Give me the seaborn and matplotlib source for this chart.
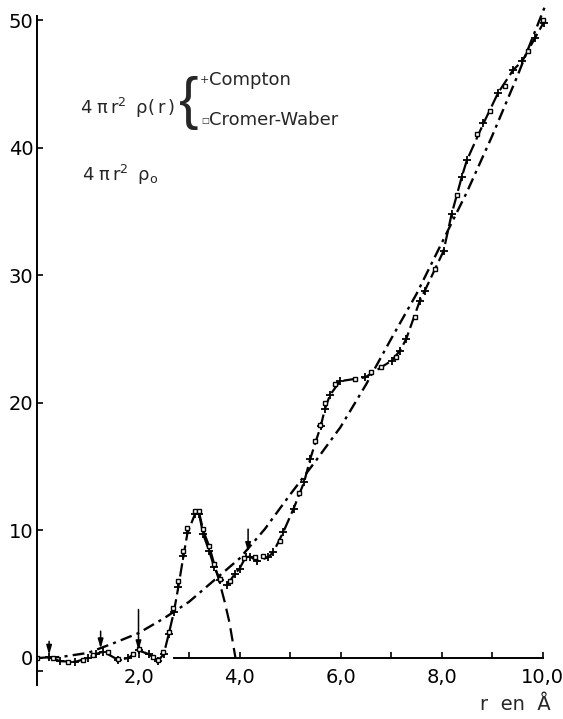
import matplotlib
matplotlib.use("Agg")
import matplotlib.pyplot as plt
import seaborn as sns
import pandas as pd

# ---------------- data ----------------
compton_r = [0.0, 0.23, 0.45, 0.75, 1.0, 1.15, 1.30, 1.60, 1.80, 2.0, 2.20, 2.39, 2.50,
             2.60, 2.70, 2.79, 2.89, 2.97, 3.12, 3.20, 3.28, 3.40, 3.50, 3.62, 3.75,
             3.91, 4.00, 4.12, 4.21, 4.35, 4.57, 4.67, 4.87, 5.07, 5.28, 5.40, 5.61,
             5.69, 5.79, 5.99, 6.49, 7.01, 7.18, 7.30, 7.57, 7.67, 8.04, 8.20, 8.40,
             8.50, 8.83, 9.12, 9.42, 9.60, 9.85, 10.02]
compton_v = [0.0, 0.05, -0.25, -0.3, 0.0, 0.3, 0.5, -0.15, 0.0, 0.6, 0.3, -0.2, 0.3,
             1.9, 3.6, 5.6, 8.0, 9.8, 11.3, 11.3, 9.7, 8.4, 7.1, 6.1, 5.7,
             6.6, 7.0, 7.9, 7.95, 7.6, 7.9, 8.3, 9.9, 11.7, 13.8, 15.6, 18.2,
             19.5, 20.6, 21.7, 22.0, 23.3, 24.1, 25.0, 28.0, 28.8, 31.9, 34.8, 37.7,
             39.0, 41.9, 44.3, 46.1, 46.8, 48.6, 49.8]

cromer_r = [0.0, 0.30, 0.61, 0.91, 1.10, 1.40, 1.60, 1.90, 2.0, 2.29, 2.39, 2.49, 2.60,
            2.68, 2.79, 2.89, 2.97, 3.12, 3.20, 3.28, 3.40, 3.50, 3.62, 3.81, 4.08,
            4.30, 4.47, 4.80, 5.18, 5.50, 5.59, 5.69, 5.89, 6.29, 6.60, 6.80, 7.10,
            7.48, 7.87, 8.30, 8.70, 8.95, 9.25, 9.72, 10.0]
cromer_v = [0.0, 0.0, -0.35, -0.15, 0.2, 0.45, -0.1, 0.35, 0.7, 0.1, -0.15, 0.45, 2.0,
            3.9, 6.0, 8.4, 10.2, 11.5, 11.5, 10.1, 8.8, 7.4, 6.2, 6.0, 7.8,
            7.9, 8.0, 9.2, 12.9, 17.0, 18.3, 20.0, 21.5, 21.85, 22.4, 22.8, 23.6,
            26.7, 30.5, 36.3, 41.1, 42.9, 44.8, 47.6, 50.0]

rho0_r = [0.2, 0.5, 1.0, 1.5, 2.0, 2.5, 3.0, 3.5, 4.0, 4.5, 5.0, 5.5, 6.0, 6.5,
          7.0, 7.5, 8.0, 8.5, 9.0, 9.5, 10.04]
rho0_v = [0.0, 0.1, 0.4, 1.15, 1.95, 3.1, 4.4, 6.1, 7.8, 10.1, 12.8, 15.4, 18.1, 21.4,
          25.0, 28.5, 32.5, 36.5, 40.9, 45.6, 51.0]

peak_r = [3.20, 3.28, 3.40, 3.50, 3.58, 3.70, 3.80, 3.92]
peak_v = [11.4, 10.0, 8.75, 7.35, 6.3, 4.5, 2.8, 0.0]

arrow_r = [0.23, 1.25, 2.0, 4.17]
arrow_top = [1.3, 2.1, 3.8, 10.1]
arrow_tip = [0.25, 0.75, 0.6, 8.3]

xtick_major = [2, 4, 6, 8, 10]
xtick_labels = ["2,0", "4,0", "6,0", "8,0", "10,0"]
xtick_minor = [3, 5, 7, 9]
ytick_major = [0, 10, 20, 30, 40, 50]
ytick_labels = ["0", "10", "20", "30", "40", "50"]

# ---------------- figure ----------------
sns.set_style("white")
plt.rcParams["font.family"] = ["DejaVu Sans"]
plt.rcParams["mathtext.default"] = "regular"

fig = plt.figure(figsize=(5.63, 7.19), dpi=100)
ax = fig.add_axes([0.0666, 0.0476, 0.915, 0.951])

df_c = pd.DataFrame({"r": compton_r, "v": compton_v})
df_w = pd.DataFrame({"r": cromer_r, "v": cromer_v})
df_0 = pd.DataFrame({"r": rho0_r, "v": rho0_v})
df_p = pd.DataFrame({"r": peak_r, "v": peak_v})

sns.lineplot(data=df_0, x="r", y="v", ax=ax, color="black", lw=1.7,
             linestyle=(0, (5, 2.2, 1.3, 2.2)), sort=False, estimator=None)
sns.lineplot(data=df_p, x="r", y="v", ax=ax, color="black", lw=1.6,
             linestyle=(0, (6, 3)), sort=False, estimator=None)
sns.lineplot(data=df_c, x="r", y="v", ax=ax, color="black", lw=1.6,
             linestyle=(0, (6, 2.2)), marker="+", markersize=6, markeredgewidth=1.3,
             markeredgecolor="black", sort=False, estimator=None)
sns.lineplot(data=df_w, x="r", y="v", ax=ax, color="black", lw=0,
             linestyle="none", marker="s", markersize=3.4,
             markerfacecolor="white", markeredgecolor="black", markeredgewidth=1.0,
             sort=False, estimator=None)

for r, top, tip in zip(arrow_r, arrow_top, arrow_tip):
    ax.annotate("", xy=(r, tip), xytext=(r, top),
                arrowprops=dict(arrowstyle="-|>,head_length=0.55,head_width=0.16",
                                color="black", lw=1.1, shrinkA=0, shrinkB=0))

ax.set_xlim(0, 10.2)
ax.set_ylim(-2.1, 51.5)
ax.set_xlabel("")
ax.set_ylabel("")

for s in ["top", "right"]:
    ax.spines[s].set_visible(False)
ax.spines["left"].set_bounds(-2.1, 50.3)
ax.spines["left"].set_linewidth(1.4)
ax.spines["bottom"].set_position(("data", 0))
ax.spines["bottom"].set_bounds(2.7, 10.0)
ax.spines["bottom"].set_linewidth(1.4)
for s in ["left", "bottom"]:
    ax.spines[s].set_color("black")

ax.set_xticks(xtick_major)
ax.set_xticklabels(xtick_labels)
ax.set_xticks(xtick_minor, minor=True)
ax.set_yticks(ytick_major)
ax.set_yticklabels(ytick_labels)
ax.set_yticks([-1], minor=True)
ax.tick_params(axis="both", which="both", direction="in", length=4, width=1.2,
               color="black", labelsize=14, labelcolor="black")
ax.tick_params(axis="x", pad=7)
ax.tick_params(axis="y", pad=3)
ax.tick_params(left=True, bottom=True)
ax.tick_params(which="minor", left=True, bottom=True)

# ---------------- labels & annotations ----------------
fig.text(0.853, 0.0195, "r  en  Å", fontsize=14, va="center", ha="left")

fig.text(0.142, 0.850, r"$4\;\pi\,r^2\;\;\rho(\,r\,)$", fontsize=13, va="center", ha="left")
fig.text(0.336, 0.857, "{", fontsize=42, va="center", ha="center",
         family=["Liberation Sans", "DejaVu Sans"])
fig.text(0.355, 0.889, "+", fontsize=8, va="center", ha="left")
fig.text(0.371, 0.889, "Compton", fontsize=13, va="center", ha="left")
fig.text(0.357, 0.832, "□", fontsize=6, va="center", ha="left")
fig.text(0.371, 0.833, "Cromer-Waber", fontsize=13, va="center", ha="left")
fig.text(0.146, 0.757, r"$4\;\pi\,r^2\;\;\rho_o$", fontsize=13, va="center", ha="left")

fig.savefig("out.png", dpi=100, facecolor="white")
